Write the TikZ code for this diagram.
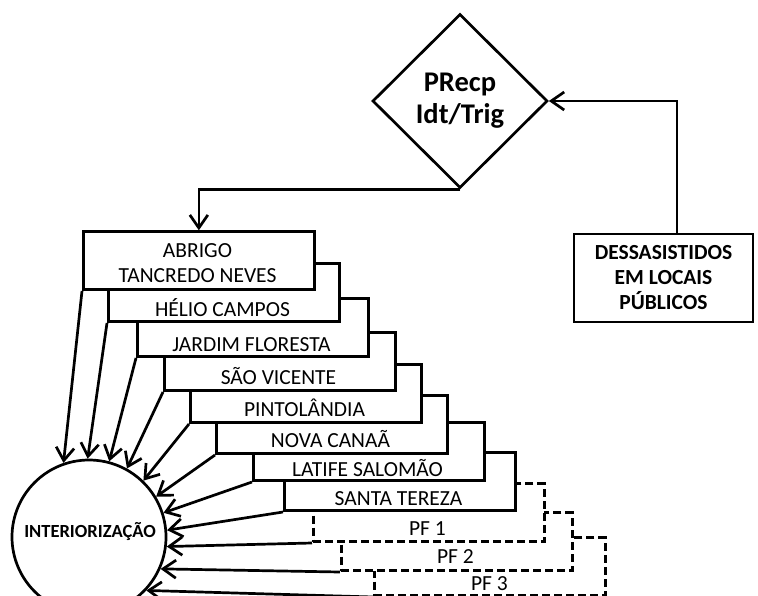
\documentclass[tikz,border=0pt]{standalone}
\usepackage{fontspec}
\setmainfont{Carlito}
\usetikzlibrary{shapes.geometric,arrows.meta}

\begin{document}
\begin{tikzpicture}[x=1pt, y=-1pt, line width=2.7pt,
        box/.style = {draw, fill=white, anchor=south west, minimum width=231pt, minimum height=58pt, inner sep=0pt},
        pf/.style = {box, dash pattern=on 8pt off 4pt},
        lbl/.style = {font=\fontsize{21.5}{25}\selectfont, align=center, inner sep=0pt, text height=14pt, text depth=0pt},
        arr/.style = {-{Straight Barb[length=13pt,width=18pt]}}]
    \useasboundingbox (0,0) rectangle (758,595);

    \node[diamond, draw, aspect=1, minimum width=175pt, minimum height=174pt, inner sep=0pt, align=center,
          font=\bfseries\fontsize{28.5}{32}\selectfont] (prec) at (460,101) {PRecp\\Idt/Trig};
    \node[draw, minimum width=179pt, minimum height=88pt, inner sep=0pt, align=center,
          font=\bfseries\fontsize{21.5}{25}\selectfont] (dess) at (663.5,278) {DESSASISTIDOS\\EM LOCAIS\\PÚBLICOS};

    % shelters, back to front
    \node[pf] (pf3) at (373,597) {};
    \node[pf] (pf2) at (340,572) {};
    \node[pf] (pf1) at (312,543) {};
    \node[box] (santa) at (283,512) {};
    \node[box] (latife) at (252,482) {};
    \node[box] (nova) at (215,455) {};
    \node[box] (pinto) at (189,424) {};
    \node[box] (sao) at (163,392) {};
    \node[box] (jardim) at (136,358) {};
    \node[box] (helio) at (107,323) {};
    \node[box] (abrigo) at (82,291) {};

    \node[lbl, text height=, text depth=] (abrigo-t) at (197.5,263) {ABRIGO\\TANCREDO NEVES};
    \node[lbl] (helio-t) at (222.5,309) {HÉLIO CAMPOS};
    \node[lbl] (jardim-t) at (251.5,344) {JARDIM FLORESTA};
    \node[lbl] (sao-t) at (278.5,377) {SÃO VICENTE};
    \node[lbl] (pinto-t) at (304.5,409) {PINTOLÂNDIA};
    \node[lbl] (nova-t) at (330.5,440) {NOVA CANAÃ};
    \node[lbl] (latife-t) at (367.5,469) {LATIFE SALOMÃO};
    \node[lbl] (santa-t) at (398.5,498) {SANTA TEREZA};
    \node[lbl] (pf1-t) at (427.5,528) {PF 1};
    \node[lbl] (pf2-t) at (455.5,556) {PF 2};
    \node[lbl] (pf3-t) at (489.5,583) {PF 3};

    \node[draw, circle, minimum size=154pt, inner sep=0pt] (interior) at (89,537) {};
    \node[inner sep=0pt, font=\bfseries\fontsize{18.5}{20}\selectfont] (interior-t) at (90,532) {INTERIORIZAÇÃO};

    \draw[arr] ([xshift=13.5pt]dess.north) |- (prec.east);
    \draw[arr] (prec.south) -| (abrigo.north);

    \draw[arr] (abrigo.south west) -- (interior.109);
    \draw[arr] (helio.south west) -- (interior.91);
    \draw[arr] (jardim.south west) -- (interior.75);
    \draw[arr] (sao.south west) -- (interior.61);
    \draw[arr] (pinto.south west) -- (interior.46);
    \draw[arr] (nova.south west) -- (interior.31);
    \draw[arr] (latife.south west) -- (interior.18);
    \draw[arr] (santa.south west) -- (interior.5);
    \draw[arr] (pf1.south west) -- (interior.-7);
    \draw[arr] (pf2.south west) -- (interior.-24);
    \draw[arr] (pf3.south west) -- (interior.-43);
\end{tikzpicture}
\end{document}
